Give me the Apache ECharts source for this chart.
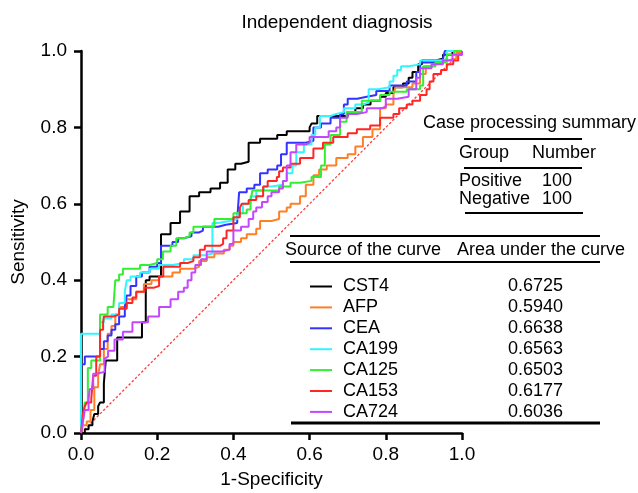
<!DOCTYPE html>
<html>
<head>
<meta charset="utf-8">
<title>Independent diagnosis</title>
<script src="https://cdn.jsdelivr.net/npm/echarts@6/dist/echarts.min.js"></script>
<style>
  html, body { margin: 0; padding: 0; background: #fff; }
  #chart { width: 638px; height: 493px; }
</style>
</head>
<body>
<div id="chart"></div>
<script>
// ROC curves, one pair of arrays per marker (1-specificity, sensitivity)
const markers = ['CST4', 'AFP', 'CEA', 'CA199', 'CA125', 'CA153', 'CA724'];
const aucValues = ['0.6725', '0.5940', '0.6638', '0.6563', '0.6503', '0.6177', '0.6036'];

const fprCST4 = [0, 0.01, 0.02, 0.03, 0.035, 0.045, 0.05, 0.06, 0.065, 0.095, 0.16, 0.17, 0.18, 0.21, 0.235, 0.26, 0.285, 0.31, 0.34, 0.365, 0.385, 0.405, 0.42, 0.44, 0.47, 0.515, 0.54, 0.60, 0.605, 0.62, 0.70, 0.72, 0.74, 0.76, 0.785, 0.80, 0.82, 0.845, 0.86, 0.87, 0.885, 0.895, 0.93, 0.95, 0.975, 1];
const tprCST4 = [0, 0.01, 0.02, 0.03, 0.05, 0.07, 0.08, 0.13, 0.19, 0.25, 0.29, 0.40, 0.41, 0.52, 0.55, 0.58, 0.62, 0.63, 0.64, 0.655, 0.69, 0.705, 0.71, 0.76, 0.77, 0.78, 0.79, 0.80, 0.81, 0.83, 0.84, 0.85, 0.86, 0.87, 0.88, 0.89, 0.905, 0.915, 0.93, 0.945, 0.965, 0.975, 0.98, 0.99, 1, 1];

const fprAFP = [0, 0.005, 0.015, 0.025, 0.035, 0.045, 0.05, 0.06, 0.07, 0.08, 0.09, 0.10, 0.12, 0.145, 0.165, 0.185, 0.205, 0.24, 0.26, 0.295, 0.31, 0.33, 0.35, 0.375, 0.39, 0.40, 0.42, 0.435, 0.46, 0.47, 0.50, 0.52, 0.54, 0.55, 0.575, 0.59, 0.61, 0.625, 0.645, 0.67, 0.70, 0.72, 0.74, 0.765, 0.785, 0.80, 0.82, 0.825, 0.87, 0.89, 0.905, 0.93, 0.96, 0.985, 1];
const tprAFP = [0, 0.02, 0.03, 0.06, 0.12, 0.15, 0.18, 0.22, 0.26, 0.28, 0.31, 0.33, 0.35, 0.37, 0.39, 0.40, 0.41, 0.42, 0.43, 0.435, 0.45, 0.46, 0.47, 0.48, 0.49, 0.50, 0.51, 0.52, 0.535, 0.555, 0.56, 0.58, 0.59, 0.60, 0.62, 0.65, 0.675, 0.69, 0.70, 0.72, 0.73, 0.75, 0.775, 0.795, 0.85, 0.86, 0.885, 0.905, 0.915, 0.94, 0.96, 0.975, 0.98, 0.995, 1];

const fprCEA = [0, 0, 0.01, 0.05, 0.06, 0.07, 0.08, 0.09, 0.10, 0.115, 0.12, 0.13, 0.145, 0.16, 0.18, 0.20, 0.21, 0.24, 0.255, 0.27, 0.29, 0.31, 0.32, 0.36, 0.38, 0.41, 0.415, 0.435, 0.455, 0.47, 0.49, 0.515, 0.525, 0.54, 0.59, 0.61, 0.63, 0.655, 0.68, 0.69, 0.70, 0.725, 0.75, 0.775, 0.81, 0.855, 0.88, 0.89, 0.95, 0.955, 1];
const tprCEA = [0, 0.18, 0.20, 0.22, 0.24, 0.255, 0.27, 0.285, 0.305, 0.33, 0.36, 0.385, 0.41, 0.42, 0.435, 0.445, 0.49, 0.50, 0.51, 0.515, 0.525, 0.53, 0.54, 0.545, 0.55, 0.56, 0.63, 0.64, 0.65, 0.68, 0.69, 0.70, 0.73, 0.76, 0.765, 0.80, 0.81, 0.825, 0.835, 0.86, 0.875, 0.88, 0.885, 0.895, 0.91, 0.92, 0.945, 0.97, 0.98, 1, 1];

const fprCA199 = [0, 0, 0.05, 0.06, 0.08, 0.10, 0.115, 0.12, 0.13, 0.155, 0.18, 0.205, 0.24, 0.27, 0.295, 0.325, 0.345, 0.36, 0.39, 0.41, 0.425, 0.445, 0.46, 0.48, 0.50, 0.53, 0.54, 0.555, 0.565, 0.585, 0.605, 0.615, 0.627, 0.655, 0.67, 0.69, 0.72, 0.74, 0.755, 0.78, 0.81, 0.82, 0.83, 0.84, 0.86, 0.89, 0.95, 0.96, 1];
const tprCA199 = [0, 0.26, 0.29, 0.30, 0.31, 0.34, 0.37, 0.40, 0.41, 0.42, 0.43, 0.44, 0.445, 0.455, 0.465, 0.47, 0.55, 0.555, 0.56, 0.575, 0.60, 0.62, 0.635, 0.645, 0.65, 0.66, 0.68, 0.70, 0.735, 0.755, 0.78, 0.80, 0.83, 0.835, 0.84, 0.85, 0.86, 0.865, 0.90, 0.905, 0.92, 0.935, 0.95, 0.96, 0.965, 0.975, 0.98, 1, 1];

const fprCA125 = [0, 0.005, 0.01, 0.018, 0.027, 0.05, 0.07, 0.085, 0.09, 0.10, 0.11, 0.155, 0.18, 0.20, 0.215, 0.235, 0.25, 0.27, 0.285, 0.295, 0.35, 0.40, 0.435, 0.445, 0.45, 0.52, 0.55, 0.575, 0.605, 0.63, 0.64, 0.655, 0.68, 0.697, 0.737, 0.785, 0.81, 0.855, 0.89, 0.898, 0.93, 0.96, 0.98, 1];
const tprCA125 = [0, 0.03, 0.08, 0.17, 0.19, 0.31, 0.33, 0.335, 0.40, 0.415, 0.43, 0.44, 0.445, 0.455, 0.475, 0.49, 0.51, 0.515, 0.525, 0.54, 0.56, 0.575, 0.585, 0.61, 0.635, 0.645, 0.655, 0.66, 0.67, 0.70, 0.755, 0.78, 0.815, 0.84, 0.87, 0.885, 0.893, 0.90, 0.91, 0.96, 0.97, 0.99, 1, 1];

const fprCA153 = [0, 0.005, 0.01, 0.015, 0.027, 0.032, 0.04, 0.05, 0.058, 0.06, 0.085, 0.10, 0.12, 0.135, 0.145, 0.167, 0.19, 0.205, 0.216, 0.26, 0.28, 0.295, 0.312, 0.325, 0.365, 0.373, 0.382, 0.40, 0.417, 0.422, 0.44, 0.46, 0.478, 0.49, 0.514, 0.52, 0.53, 0.55, 0.575, 0.61, 0.635, 0.662, 0.70, 0.724, 0.759, 0.785, 0.82, 0.835, 0.855, 0.87, 0.89, 0.907, 0.915, 0.925, 0.945, 0.96, 0.977, 0.99, 1];
const tprCA153 = [0, 0.05, 0.07, 0.08, 0.09, 0.15, 0.20, 0.27, 0.29, 0.305, 0.31, 0.325, 0.34, 0.355, 0.37, 0.38, 0.385, 0.41, 0.435, 0.445, 0.45, 0.46, 0.48, 0.49, 0.495, 0.51, 0.53, 0.565, 0.59, 0.60, 0.61, 0.62, 0.645, 0.66, 0.67, 0.685, 0.695, 0.705, 0.72, 0.745, 0.76, 0.775, 0.785, 0.795, 0.805, 0.825, 0.835, 0.85, 0.86, 0.87, 0.885, 0.90, 0.92, 0.94, 0.95, 0.965, 0.975, 0.99, 1];

const fprCA724 = [0, 0.005, 0.01, 0.02, 0.023, 0.032, 0.04, 0.062, 0.067, 0.071, 0.088, 0.11, 0.135, 0.176, 0.205, 0.235, 0.255, 0.27, 0.28, 0.29, 0.30, 0.315, 0.33, 0.37, 0.39, 0.40, 0.42, 0.44, 0.452, 0.46, 0.475, 0.49, 0.50, 0.52, 0.53, 0.54, 0.55, 0.565, 0.59, 0.60, 0.65, 0.67, 0.68, 0.70, 0.724, 0.75, 0.79, 0.80, 0.83, 0.86, 0.88, 0.89, 0.92, 0.95, 0.975, 1];
const tprCA724 = [0, 0.03, 0.06, 0.09, 0.115, 0.155, 0.16, 0.195, 0.20, 0.215, 0.245, 0.265, 0.29, 0.305, 0.33, 0.35, 0.37, 0.38, 0.40, 0.42, 0.44, 0.455, 0.475, 0.48, 0.495, 0.53, 0.54, 0.56, 0.58, 0.59, 0.605, 0.62, 0.63, 0.64, 0.66, 0.70, 0.735, 0.755, 0.76, 0.775, 0.79, 0.80, 0.825, 0.835, 0.84, 0.85, 0.855, 0.875, 0.88, 0.90, 0.93, 0.955, 0.965, 0.975, 0.99, 1];

const fprList = [fprCST4, fprAFP, fprCEA, fprCA199, fprCA125, fprCA153, fprCA724];
const tprList = [tprCST4, tprAFP, tprCEA, tprCA199, tprCA125, tprCA153, tprCA724];

// reference line
const refX = [0, 1];
const refY = [0, 1];

// axis ticks
const tickValues = [0, 0.2, 0.4, 0.6, 0.8, 1.0];

// case processing summary
const caseTitle = 'Case processing summary';
const caseHeader = ['Group', 'Number'];
const caseRows = [['Positive', '100'], ['Negative', '100']];
const aucHeader = ['Source of the curve', 'Area under the curve'];

const colors = ['#000000', '#ff7f27', '#3333ff', '#33f5ff', '#33ee33', '#ff2626', '#c447ff'];
const font = '"Liberation Sans", Arial, Helvetica, sans-serif';

const zip = (xs, ys) => xs.map((x, i) => [x, ys[i]]);

const chart = echarts.init(document.getElementById('chart'), null, { renderer: 'canvas' });

const curveSeries = markers.map((name, i) => ({
    name: name,
    type: 'line',
    step: 'end',
    data: zip(fprList[i], tprList[i]),
    showSymbol: false,
    symbol: 'none',
    lineStyle: { color: colors[i], width: 2 },
    itemStyle: { color: colors[i] },
    z: 3 + i,
    silent: true,
}));

// helper for table text
const txt = (text, x, y, size, align) => ({
    type: 'text',
    style: {
        text: text, x: x, y: y,
        font: size + 'px ' + font,
        fill: '#000',
        align: align || 'left', textAlign: align || 'left',
        verticalAlign: 'middle', textVerticalAlign: 'middle',
    },
});
const hline = (x1, x2, y, w) => ({
    type: 'line',
    shape: { x1: x1, y1: y, x2: x2, y2: y },
    style: { stroke: '#000', lineWidth: w },
});

const options = {
    animation: false,
    backgroundColor: '#fff',
    textStyle: { fontFamily: font },
    title: {
        text: 'Independent diagnosis',
        left: 332, top: 8, textAlign: 'center',
        textStyle: { fontSize: 19, fontWeight: 'normal', color: '#000', fontFamily: font },
    },
    grid: { left: 81, right: 176, top: 51, bottom: 60, containLabel: false, outerBoundsMode: 'none' },
    xAxis: {
        type: 'value', min: 0, max: 1, interval: 0.2,
        name: '1-Specificity', nameLocation: 'middle', nameGap: 37,
        nameTextStyle: { fontSize: 19, color: '#000', fontFamily: font },
        axisLine: { show: true, onZero: false, lineStyle: { color: '#000', width: 2.5 } },
        axisTick: { show: true, length: 7, lineStyle: { color: '#000', width: 2.5 } },
        axisLabel: { fontSize: 19, color: '#000', margin: 12, fontFamily: font,
            formatter: v => tickValues.includes(v) ? v.toFixed(1) : '' },
        splitLine: { show: false },
    },
    yAxis: {
        type: 'value', min: 0, max: 1, interval: 0.2,
        name: 'Sensitivity', nameLocation: 'middle', nameGap: 53,
        nameTextStyle: { fontSize: 19, color: '#000', fontFamily: font },
        axisLine: { show: true, onZero: false, lineStyle: { color: '#000', width: 2.5 } },
        axisTick: { show: true, length: 7, lineStyle: { color: '#000', width: 2.5 } },
        axisLabel: { fontSize: 19, color: '#000', margin: 14, fontFamily: font,
            formatter: v => tickValues.includes(v) ? v.toFixed(1) : '' },
        splitLine: { show: false },
    },
    legend: {
        data: markers,
        orient: 'vertical',
        left: 305, top: 272.5,
        icon: 'rect', itemWidth: 22, itemHeight: 2,
        itemGap: 2.9,
        selectedMode: false,
        formatter: name => '{n|' + name + '}{v|' + aucValues[markers.indexOf(name)] + '}',
        textStyle: {
            fontSize: 18, color: '#000', fontFamily: font, lineHeight: 18,
            rich: {
                n: { width: 165, fontSize: 18, lineHeight: 18, padding: [0, 0, 0, 6], fontFamily: font },
                v: { fontSize: 18, lineHeight: 18, fontFamily: font },
            },
        },
    },
    graphic: [
        txt(caseTitle, 423, 123, 18),
        hline(464, 582, 139, 2),
        txt(caseHeader[0], 459, 153, 18),
        txt(caseHeader[1], 532, 153, 18),
        hline(464, 582, 168, 2),
        txt(caseRows[0][0], 459, 181, 18),
        txt(caseRows[0][1], 542, 181, 18),
        txt(caseRows[1][0], 459, 199, 18),
        txt(caseRows[1][1], 542, 199, 18),
        hline(465, 583, 213, 2),
        hline(290, 600, 236, 2),
        txt(aucHeader[0], 285, 250, 18),
        txt(aucHeader[1], 457, 250, 18),
        hline(290, 600, 262, 2),
        hline(291, 600, 423, 3),
    ],
    series: [
        {
            name: 'Reference',
            type: 'line',
            data: zip(refX, refY),
            showSymbol: false,
            symbol: 'none',
            lineStyle: { color: '#ff3b3b', width: 1.3, type: [2.5, 2] },
            z: 2,
            silent: true,
        },
        ...curveSeries,
    ],
};

chart.setOption(options);
</script>
</body>
</html>
